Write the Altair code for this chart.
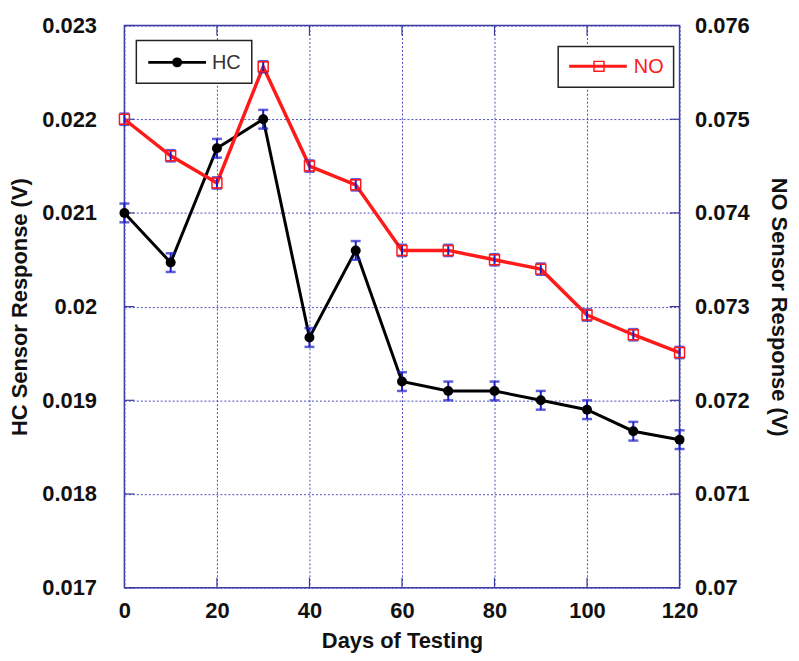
import altair as alt
import pandas as pd

# ---------------- data ----------------
days = [0, 10, 20, 30, 40, 50, 60, 70, 80, 90, 100, 110, 120]
hc_values = [0.02100, 0.02047, 0.02169, 0.02200, 0.01967, 0.02060, 0.01920,
             0.01910, 0.01910, 0.01900, 0.01890, 0.01867, 0.01858]
hc_errors = [0.00010, 0.00010, 0.00010, 0.00010, 0.00010, 0.00010, 0.00010,
             0.00010, 0.00010, 0.00010, 0.00010, 0.00010, 0.00010]
no_values = [0.07500, 0.07461, 0.07432, 0.07556, 0.07450, 0.07430, 0.07360,
             0.07360, 0.07350, 0.07340, 0.07291, 0.07270, 0.07251]
no_errors = [0.00006, 0.00006, 0.00006, 0.00006, 0.00006, 0.00006, 0.00006,
             0.00006, 0.00006, 0.00006, 0.00006, 0.00006, 0.00006]
x_ticks = [0, 20, 40, 60, 80, 100, 120]
x_inner_ticks = [20, 40, 60, 80, 100]
hc_ticks = [0.017, 0.018, 0.019, 0.020, 0.021, 0.022, 0.023]
no_ticks = [0.070, 0.071, 0.072, 0.073, 0.074, 0.075, 0.076]

W, H = 558, 565
FRAME = "#3b3b9e"
GRID = "#4a4ac0"
ERR = "#1c1cc8"
FONT = "Liberation Sans"
FS = 22

df = pd.DataFrame({"day": days, "hc": hc_values, "no": no_values})
df["hc_lo"] = df["hc"] - pd.Series(hc_errors)
df["hc_hi"] = df["hc"] + pd.Series(hc_errors)
df["no_lo"] = df["no"] - pd.Series(no_errors)
df["no_hi"] = df["no"] + pd.Series(no_errors)

hc_tick_df = pd.DataFrame({"hv": hc_ticks})
no_tick_df = pd.DataFrame({"nv": no_ticks})
x_tick_df = pd.DataFrame({"xv": x_inner_ticks})

x_scale = alt.Scale(domain=[0, 120], nice=False, zero=False)
hc_scale = alt.Scale(domain=[0.017, 0.023], nice=False, zero=False)
no_scale = alt.Scale(domain=[0.070, 0.076], nice=False, zero=False)

x_axis = alt.Axis(values=x_ticks, format="d", title="Days of Testing",
                  grid=True, gridColor=GRID, gridDash=[2, 2], gridWidth=1,
                  tickSize=0, labelPadding=13, domain=False, titlePadding=9,
                  labelFlush=False, labelOverlap=False)
hc_axis = alt.Axis(orient="left", values=hc_ticks, format="~f",
                   title="HC Sensor Response (V)", grid=True, gridColor=GRID,
                   gridDash=[2, 2], gridWidth=1, tickSize=0, labelPadding=28,
                   domain=False, titlePadding=10, labelFlush=False)
no_axis = alt.Axis(orient="right", values=no_ticks, format="~f",
                   title="NO Sensor Response (V)", grid=False, tickSize=0,
                   labelPadding=15, domain=False, titlePadding=17, labelFlush=False)


def X(field):
    return alt.X(field, type="quantitative", scale=x_scale, axis=x_axis)


def HY(field):
    return alt.Y(field, type="quantitative", scale=hc_scale, axis=hc_axis)


def NY(field):
    return alt.Y(field, type="quantitative", scale=no_scale, axis=no_axis)


base = alt.Chart(df)

# ---------------- HC layer ----------------
hc_line = base.mark_line(color="black", strokeWidth=3).encode(x=X("day"), y=HY("hc"))
hc_err = base.mark_rule(color=ERR, strokeWidth=2).encode(x=X("day"), y=HY("hc_lo"), y2="hc_hi")
hc_cap_hi = base.mark_tick(color=ERR, orient="horizontal", size=10, thickness=2.5).encode(x=X("day"), y=HY("hc_hi"))
hc_cap_lo = base.mark_tick(color=ERR, orient="horizontal", size=10, thickness=2.5).encode(x=X("day"), y=HY("hc_lo"))
hc_pts = base.mark_point(shape="circle", filled=True, color="black", size=100, opacity=1).encode(x=X("day"), y=HY("hc"))

left_ticks = alt.Chart(hc_tick_df).mark_rule(color=FRAME, strokeWidth=1.2).encode(
    y=HY("hv"), x=alt.value(0), x2=alt.value(10))
bottom_ticks = alt.Chart(x_tick_df).mark_rule(color=FRAME, strokeWidth=1.2).encode(
    x=X("xv"), y=alt.value(H - 10), y2=alt.value(H))
top_ticks = alt.Chart(x_tick_df).mark_rule(color=FRAME, strokeWidth=1.2).encode(
    x=X("xv"), y=alt.value(0), y2=alt.value(10))

hc_layer = alt.layer(left_ticks, bottom_ticks, top_ticks, hc_line, hc_err, hc_cap_hi, hc_cap_lo, hc_pts)

# ---------------- NO layer ----------------
no_line = base.mark_line(color="#ff1a1a", strokeWidth=3.5).encode(x=X("day"), y=NY("no"))
no_err = base.mark_rule(color=ERR, strokeWidth=2).encode(x=X("day"), y=NY("no_lo"), y2="no_hi")
no_cap_hi = base.mark_tick(color=ERR, orient="horizontal", size=10, thickness=2.5).encode(x=X("day"), y=NY("no_hi"))
no_cap_lo = base.mark_tick(color=ERR, orient="horizontal", size=10, thickness=2.5).encode(x=X("day"), y=NY("no_lo"))
no_pts = base.mark_point(shape="square", filled=False, color="#ff1a1a", size=100, strokeWidth=1.5, opacity=1).encode(
    x=X("day"), y=NY("no"))
right_ticks = alt.Chart(no_tick_df).mark_rule(color=FRAME, strokeWidth=1.2).encode(
    y=NY("nv"), x=alt.value(W - 10), x2=alt.value(W))

no_layer = alt.layer(right_ticks, no_line, no_err, no_cap_hi, no_cap_lo, no_pts)

# ---------------- legends ----------------
one = alt.Chart(pd.DataFrame({"k": [0]}))
hc_box = one.mark_rect(fill="white", stroke="#222222", strokeWidth=1.5).encode(
    x=alt.value(12), x2=alt.value(128), y=alt.value(15), y2=alt.value(58))
hc_leg_line = one.mark_rule(color="black", strokeWidth=3).encode(
    x=alt.value(24), x2=alt.value(82), y=alt.value(37))
hc_leg_pt = one.mark_point(shape="circle", filled=True, color="black", size=100, opacity=1).encode(
    x=alt.value(53), y=alt.value(37))
hc_leg_txt = one.mark_text(text="HC", align="left", baseline="middle", font=FONT, fontSize=20,
                           color="#333333").encode(x=alt.value(88), y=alt.value(38))

no_box = one.mark_rect(fill="white", stroke="#222222", strokeWidth=1.5).encode(
    x=alt.value(436), x2=alt.value(552), y=alt.value(21), y2=alt.value(62))
no_leg_line = one.mark_rule(color="#ff1a1a", strokeWidth=3).encode(
    x=alt.value(447), x2=alt.value(505), y=alt.value(41))
no_leg_pt = one.mark_point(shape="square", filled=False, color="#ff1a1a", size=100, strokeWidth=1.5,
                           opacity=1).encode(x=alt.value(477), y=alt.value(41))
no_leg_txt = one.mark_text(text="NO", align="left", baseline="middle", font=FONT, fontSize=20,
                           color="#ff1a1a").encode(x=alt.value(512), y=alt.value(42))

legend_layer = alt.layer(hc_box, hc_leg_line, hc_leg_pt, hc_leg_txt,
                         no_box, no_leg_line, no_leg_pt, no_leg_txt)

chart = alt.layer(hc_layer, no_layer, legend_layer).resolve_scale(
    y="independent"
).properties(
    width=W, height=H,
    padding={"left": 117, "top": 16, "right": 112, "bottom": 64},
    autosize=alt.AutoSizeParams(type="none"),
).configure_view(
    stroke=FRAME, strokeWidth=1.5
).configure_axis(
    labelFont=FONT, labelFontSize=FS, labelFontWeight="bold", labelColor="#111111",
    titleFont=FONT, titleFontSize=FS, titleFontWeight="bold", titleColor="#111111",
)

chart.save("out.html", embed_options={"renderer": "svg", "actions": False})
